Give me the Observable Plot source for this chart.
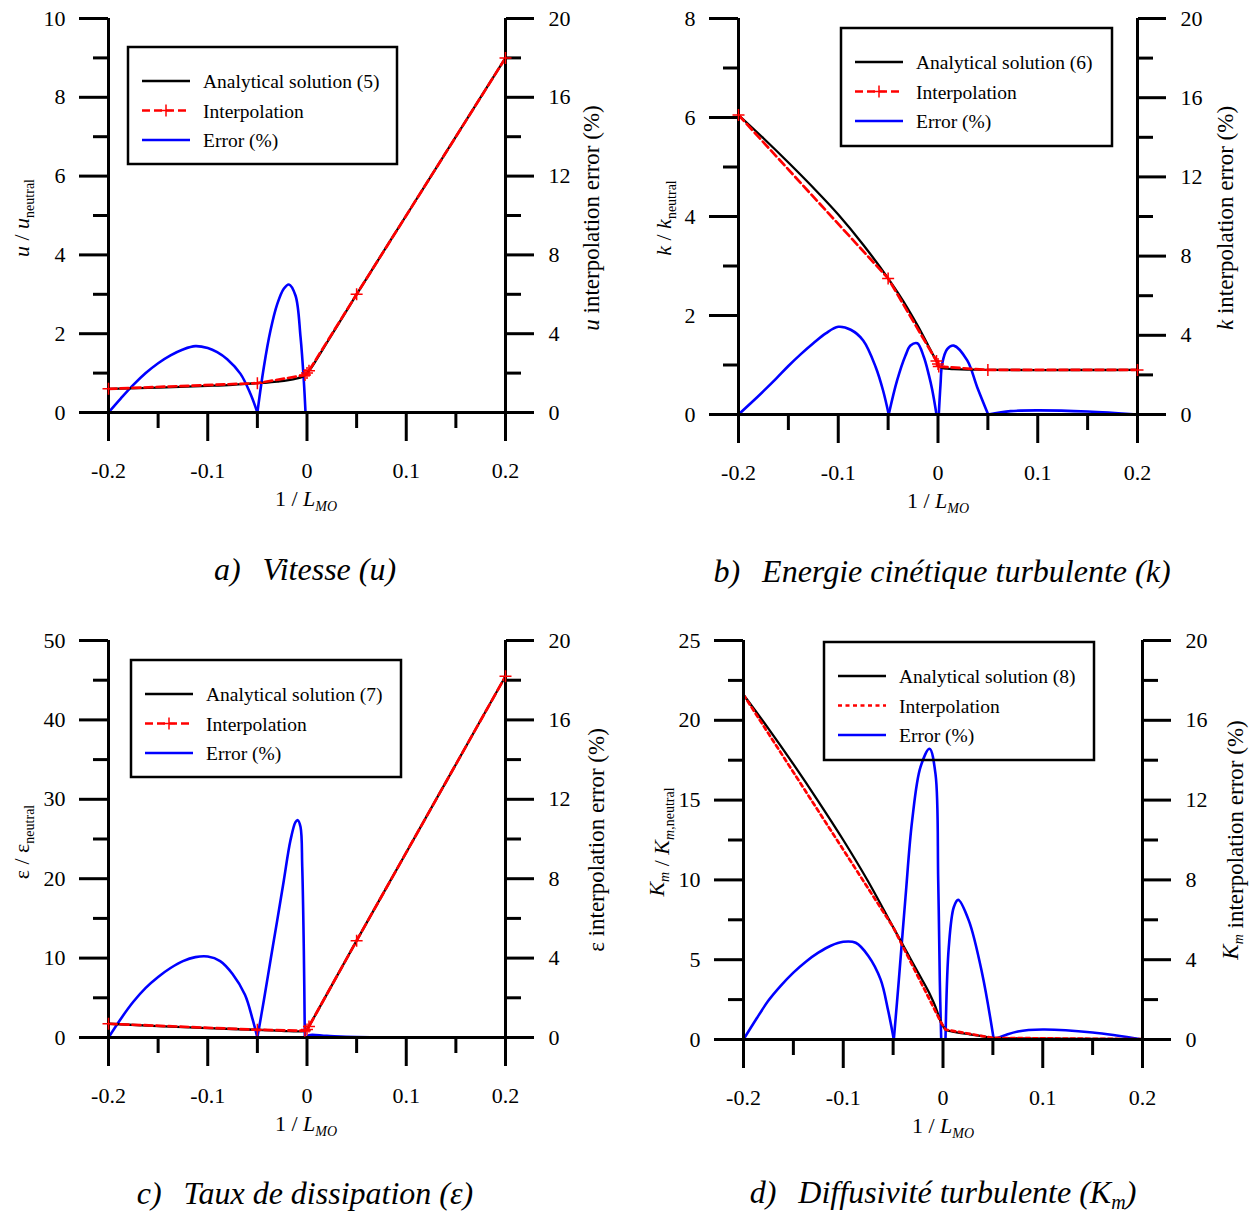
<!DOCTYPE html>
<html><head><meta charset="utf-8">
<script src="https://cdn.jsdelivr.net/npm/d3@7"></script>
<script src="https://cdn.jsdelivr.net/npm/@observablehq/plot@0.6"></script>
<style>
body{margin:0;background:#fff;}
#root{position:relative;width:1253px;height:1214px;overflow:hidden;}
#root svg{position:absolute;}
</style></head><body><div id="root"></div>
<script>
// ---------- shared axes ----------
const xMajor = [-0.2, -0.1, 0, 0.1, 0.2];
const xMinor = [-0.15, -0.05, 0.05, 0.15];
const errMajor = [0, 4, 8, 12, 16, 20];
const errMinor = [2, 6, 10, 14, 18];
const ERR_MAX = 20;
const legendLabels = ["Interpolation", "Error (%)"];

// ---------- a) Vitesse (u) ----------
const aYMajor = [0, 2, 4, 6, 8, 10];
const aYMinor = [1, 3, 5, 7, 9];
const aX = [-0.2, -0.15, -0.1, -0.075, -0.05, -0.04, -0.03, -0.02, -0.01, -0.005, -0.002, 0, 0.002, 0.005, 0.01, 0.02, 0.05, 0.1, 0.15, 0.2];
const aU = [0.60, 0.632, 0.675, 0.703, 0.745, 0.76, 0.785, 0.815, 0.865, 0.905, 0.95, 1.0, 1.06, 1.16, 1.36, 1.77, 3.0, 5.0, 7.0, 9.0];
const aNodeX = [-0.2, -0.05, -0.002, 0, 0.002, 0.05, 0.2];
const aNodeU = [0.60, 0.745, 0.95, 1.0, 1.06, 3.0, 9.0];
const aErrX = [-0.2, -0.1875, -0.175, -0.1625, -0.15, -0.1375, -0.125, -0.1125, -0.1, -0.0905, -0.0804, -0.067, -0.057, -0.05,
               -0.0435, -0.0368, -0.030, -0.0234, -0.0183, -0.0116, -0.0065, -0.0032, -0.0015, 0.2];
const aErrV = [0, 0.72, 1.4, 2.0, 2.5, 2.9, 3.2, 3.37, 3.27, 3.06, 2.7, 1.96, 0.95, 0,
               2.3, 4.16, 5.5, 6.28, 6.5, 5.94, 3.82, 1.6, 0, 0];

// ---------- b) Energie cinétique turbulente (k) ----------
const bYMajor = [0, 2, 4, 6, 8];
const bYMinor = [1, 3, 5, 7];
const bX = [-0.2, -0.175, -0.15, -0.125, -0.1, -0.075, -0.05, -0.04, -0.03, -0.02, -0.01, -0.005, -0.0015, 0, 0.0008, 0.0042, 0.0092, 0.0158, 0.0293, 0.0393, 0.05, 0.1, 0.15, 0.2];
const bK = [6.05, 5.58, 5.09, 4.58, 4.04, 3.43, 2.75, 2.45, 2.13, 1.78, 1.40, 1.207, 1.08, 1.02, 0.97, 0.941, 0.925, 0.917, 0.907, 0.905, 0.90, 0.898, 0.899, 0.90];
const bNodeX = [-0.2, -0.05, -0.0015, 0, 0.0008, 0.05, 0.2];
const bNodeK = [6.05, 2.75, 1.08, 1.02, 0.97, 0.90, 0.90];
const bErrX = [-0.2, -0.1875, -0.175, -0.1625, -0.15, -0.1375, -0.125, -0.1125, -0.1, -0.0875, -0.075, -0.0625, -0.055, -0.0494,
               -0.041, -0.0326, -0.0276, -0.0208, -0.0142, -0.0092, -0.0058, -0.0015,
               0.0008, 0.0025, 0.0042, 0.0092, 0.0158, 0.0293, 0.0393, 0.0503, 0.0727, 0.1, 0.15, 0.2];
const bErrV = [0, 0.58, 1.18, 1.8, 2.45, 3.05, 3.6, 4.1, 4.43, 4.28, 3.74, 2.4, 1.2, 0,
               1.72, 2.98, 3.48, 3.6, 2.9, 2.0, 1.25, 0,
               0, 1.5, 2.56, 3.3, 3.48, 2.73, 1.38, 0, 0.17, 0.21, 0.15, 0];

// ---------- c) Taux de dissipation (ε) ----------
const cYMajor = [0, 10, 20, 30, 40, 50];
const cYMinor = [5, 15, 25, 35, 45];
const cX = [-0.2, -0.15, -0.1, -0.05, -0.03, -0.02, -0.01, -0.005, -0.002, 0, 0.002, 0.005, 0.01, 0.05, 0.1, 0.15, 0.2];
const cE = [1.73, 1.43, 1.17, 0.97, 0.87, 0.81, 0.775, 0.78, 0.85, 1.0, 1.4, 2.07, 3.2, 12.2, 23.3, 34.4, 45.5];
const cNodeX = [-0.2, -0.05, -0.0022, 0, 0.002, 0.05, 0.2];
const cNodeE = [1.73, 0.97, 0.85, 1.0, 1.4, 12.2, 45.5];
const cErrX = [-0.2, -0.1875, -0.175, -0.1625, -0.15, -0.1375, -0.125, -0.1125, -0.1, -0.0875, -0.075, -0.0625, -0.055, -0.05,
               -0.0435, -0.0368, -0.03, -0.0234, -0.0167, -0.0116, -0.0093, -0.0065, -0.0048, -0.0032, -0.0022, 0, 0.002, 0.02, 0.05, 0.2];
const cErrV = [0, 0.95, 1.8, 2.5, 3.05, 3.5, 3.85, 4.05, 4.08, 3.85, 3.2, 2.15, 0.95, 0,
               1.86, 3.88, 5.9, 7.9, 9.92, 10.85, 10.95, 10.6, 8.6, 4.4, 0, 0, 0.12, 0.08, 0.02, 0];

// ---------- d) Diffusivité turbulente (Km) ----------
const dYMajor = [0, 5, 10, 15, 20, 25];
const dYMinor = [2.5, 7.5, 12.5, 17.5, 22.5];
const dX = [-0.2, -0.175, -0.15, -0.125, -0.1, -0.075, -0.05, -0.04, -0.03, -0.0226, -0.0135, -0.0075, -0.0048, -0.0032, -0.0018, 0, 0.0025, 0.006, 0.011, 0.015, 0.026, 0.039, 0.05, 0.1, 0.15, 0.2];
const dK = [21.6, 19.475, 17.25, 14.925, 12.5, 9.9, 7.04, 5.9, 4.76, 3.93, 2.88, 2.04, 1.56, 1.28, 1.05, 0.85, 0.62, 0.54, 0.48, 0.437, 0.333, 0.209, 0.1, 0.05, 0.03, 0.02];
const dNodeX = [-0.2, -0.05, -0.0018, 0.0025, 0.05, 0.2];
const dNodeK = [21.6, 7.04, 1.05, 0.62, 0.1, 0.02];
const dErrX = [-0.2, -0.1875, -0.175, -0.1625, -0.15, -0.1375, -0.125, -0.1125, -0.1, -0.0875, -0.075, -0.0625, -0.055, -0.0493,
               -0.0443, -0.0376, -0.0309, -0.0226, -0.0135, -0.0075, -0.0048, -0.0032, -0.0018,
               0.0025, 0.0058, 0.0108, 0.0152, 0.0259, 0.0393, 0.0509, 0.075, 0.1, 0.15, 0.2];
const dErrV = [0, 1.0, 1.95, 2.7, 3.35, 3.9, 4.35, 4.7, 4.9, 4.85, 4.2, 3.0, 1.45, 0,
               2.96, 7.13, 10.98, 13.65, 14.57, 13.3, 7.97, 2.96, 0,
               0, 4.63, 6.63, 7.0, 5.96, 3.3, 0, 0.4, 0.5, 0.35, 0];

// ---------- layout ----------
const SVG_W = 627, SVG_H = 600;
const panels = [
  {yMax: 10, yMajor: aYMajor, yMinor: aYMinor, x: aX, y: aU, nodeX: aNodeX, nodeY: aNodeU, errX: aErrX, errV: aErrV,
   markers: true, dash: "8,4", eq: "(5)", sym: "u", left: 0, top: 0, frame: [108, 505, 18, 412],
   yLab: [29, 218], rLab: [599, 218], xLab: [306, 506], title: [305, 580], legend: [128, 47, 269, 117]},
  {yMax: 8, yMajor: bYMajor, yMinor: bYMinor, x: bX, y: bK, nodeX: bNodeX, nodeY: bNodeK, errX: bErrX, errV: bErrV,
   markers: true, dash: "8,4", eq: "(6)", sym: "k", left: 626, top: 0, frame: [738, 1137, 18, 414],
   yLab: [671, 218], rLab: [1233, 218], xLab: [938, 508], title: [942, 582], legend: [841, 28, 271, 118]},
  {yMax: 50, yMajor: cYMajor, yMinor: cYMinor, x: cX, y: cE, nodeX: cNodeX, nodeY: cNodeE, errX: cErrX, errV: cErrV,
   markers: true, dash: "8,4", eq: "(7)", sym: "ε", left: 0, top: 614, frame: [108, 505, 640, 1037],
   yLab: [29, 842], rLab: [604, 840], xLab: [306, 1131], title: [305, 1204], legend: [131, 660, 270, 117]},
  {yMax: 25, yMajor: dYMajor, yMinor: dYMinor, x: dX, y: dK, nodeX: dNodeX, nodeY: dNodeK, errX: dErrX, errV: dErrV,
   markers: false, dash: "4,3.5", eq: "(8)", sym: "Km", left: 626, top: 614, frame: [743, 1142, 640, 1039],
   yLab: [664, 842], rLab: [1238, 840], xLab: [943, 1133], title: [943, 1203], legend: [824, 642, 270, 118]}
];

const plusSymbol = {draw(ctx, size) {
  const r = Math.sqrt(size / Math.PI);
  ctx.moveTo(-r, 0); ctx.lineTo(r, 0); ctx.moveTo(0, -r); ctx.lineTo(0, r);
}};

// split an error series into humps at its zero points (cusps)
function errSegments(xs, vs) {
  const out = []; let seg = 0;
  xs.forEach((x, i) => {
    out.push({x, e: vs[i], seg});
    if (vs[i] === 0 && i > 0 && i < xs.length - 1) { seg++; out.push({x, e: vs[i], seg}); }
  });
  return out;
}

const FONT = "'Liberation Serif', 'Times New Roman', serif";
const root = document.getElementById("root");
const captions = [
  ["a)", "Vitesse (", "u", ")"],
  ["b)", "Energie cinétique turbulente (", "k", ")"],
  ["c)", "Taux de dissipation (", "ε", ")"],
  ["d)", "Diffusivité turbulente (", "K", ")"]
];

panels.forEach((p, ci) => {
  const k = p.yMax / ERR_MAX;
  const analytical = p.x.map((x, i) => ({x, y: p.y[i]}));
  const nodes = p.nodeX.map((x, i) => ({x, y: p.nodeY[i]}));
  const err = errSegments(p.errX, p.errV);
  const [fx0, fx1, fy0, fy1] = p.frame;
  const marks = [
    Plot.line(err, {x: "x", y: d => d.e * k, z: "seg", stroke: "#0000ff", strokeWidth: 2.6, curve: "catmull-rom"}),
    Plot.line(analytical, {x: "x", y: "y", stroke: "black", strokeWidth: 2.3, curve: "monotone-x"}),
    Plot.line(nodes, {x: "x", y: "y", stroke: "#ff0000", strokeWidth: 2.7, strokeDasharray: p.dash}),
    Plot.ruleX([-0.2, 0.2], {y1: 0, y2: p.yMax, stroke: "black", strokeWidth: 3}),
    Plot.ruleY([0], {stroke: "black", strokeWidth: 3}),
    Plot.axisX({ticks: xMajor, tickSize: 29, tickPadding: 21, tickFormat: d => String(d), strokeWidth: 3, label: null}),
    Plot.axisX({ticks: xMinor, tickSize: 16, tickFormat: () => "", strokeWidth: 3, label: null}),
    Plot.axisY({anchor: "left", ticks: p.yMajor, tickSize: 29, tickPadding: 14, tickFormat: d => String(d), strokeWidth: 3, label: null}),
    Plot.axisY({anchor: "left", ticks: p.yMinor, tickSize: 15, tickFormat: () => "", strokeWidth: 3, label: null}),
    Plot.axisY({anchor: "right", ticks: errMajor.map(e => e * k), tickSize: 28, tickPadding: 15, tickFormat: v => String(Math.round(v / k)), strokeWidth: 3, label: null}),
    Plot.axisY({anchor: "right", ticks: errMinor.map(e => e * k), tickSize: 15, tickFormat: () => "", strokeWidth: 3, label: null})
  ];
  if (p.markers) marks.push(Plot.dot(nodes, {x: "x", y: "y", symbol: plusSymbol, r: 6, stroke: "#ff0000", fill: "none", strokeWidth: 1.5}));

  const svg = Plot.plot({
    width: SVG_W, height: SVG_H,
    marginLeft: fx0 - p.left, marginRight: SVG_W - (fx1 - p.left),
    marginTop: fy0 - p.top, marginBottom: SVG_H - (fy1 - p.top),
    x: {domain: [-0.2, 0.2]},
    y: {domain: [0, p.yMax]},
    style: {fontFamily: FONT, fontSize: "22px", color: "black", background: "transparent", overflow: "visible"},
    marks
  });
  svg.style.left = p.left + "px";
  svg.style.top = p.top + "px";
  root.appendChild(svg);

  const g = d3.select(svg).append("g").attr("transform", `translate(${-p.left},${-p.top})`)
    .attr("font-family", FONT).attr("fill", "black").attr("text-anchor", "start");

  function symbolSpans(t, withSub) {
    if (p.sym === "Km") {
      t.append("tspan").attr("font-style", "italic").text("K");
      const s = t.append("tspan").attr("font-size", 14).attr("dy", 5);
      s.append("tspan").attr("font-style", "italic").text("m");
      if (withSub) s.append("tspan").text(",neutral");
      t.append("tspan").attr("dy", -5).text("");
    } else {
      t.append("tspan").attr("font-style", p.sym === "ε" ? "normal" : "italic").text(p.sym);
      if (withSub) {
        t.append("tspan").attr("font-size", 14).attr("dy", 5).text("neutral");
        t.append("tspan").attr("dy", -5).text("");
      }
    }
  }

  // left axis title
  const yl = g.append("text").attr("transform", `translate(${p.yLab[0]},${p.yLab[1]}) rotate(-90)`)
    .attr("text-anchor", "middle").attr("font-size", 22);
  symbolSpans(yl, false);
  yl.append("tspan").text(" / ");
  symbolSpans(yl, true);

  // right axis title
  const rl = g.append("text").attr("transform", `translate(${p.rLab[0]},${p.rLab[1]}) rotate(-90)`)
    .attr("text-anchor", "middle").attr("font-size", 23);
  symbolSpans(rl, false);
  rl.append("tspan").text(" interpolation error (%)");

  // x axis title
  const xl = g.append("text").attr("x", p.xLab[0]).attr("y", p.xLab[1]).attr("text-anchor", "middle").attr("font-size", 22);
  xl.append("tspan").text("1 / ");
  xl.append("tspan").attr("font-style", "italic").text("L");
  xl.append("tspan").attr("font-style", "italic").attr("font-size", 14).attr("dy", 5).text("MO");

  // caption
  const cap = captions[ci];
  const tt = g.append("text").attr("x", p.title[0]).attr("y", p.title[1]).attr("text-anchor", "middle")
    .attr("font-size", 32).attr("font-style", "italic");
  tt.append("tspan").text(cap[0]);
  tt.append("tspan").attr("dx", 22).text(cap[1] + cap[2]);
  if (ci === 3) {
    tt.append("tspan").attr("font-size", 20).attr("dy", 6).text("m");
    tt.append("tspan").attr("dy", -6).text(cap[3]);
  } else {
    tt.append("tspan").text(cap[3]);
  }

  // legend (transparent box: curves show through, as in the reference)
  const [lx, ly, lw, lh] = p.legend;
  g.append("rect").attr("x", lx).attr("y", ly).attr("width", lw).attr("height", lh)
    .attr("fill", "none").attr("stroke", "black").attr("stroke-width", 2.5);
  const rows = [ly + 34, ly + 63.5, ly + 93];
  const sx0 = lx + 14, sx1 = lx + 62, tx = lx + 75;
  g.append("line").attr("x1", sx0).attr("x2", sx1).attr("y1", rows[0]).attr("y2", rows[0]).attr("stroke", "black").attr("stroke-width", 2.3);
  g.append("line").attr("x1", sx0).attr("x2", sx1).attr("y1", rows[1]).attr("y2", rows[1]).attr("stroke", "#ff0000").attr("stroke-width", 2.7).attr("stroke-dasharray", p.dash);
  if (p.markers) {
    const mx = (sx0 + sx1) / 2;
    g.append("path").attr("d", `M${mx - 6},${rows[1]}H${mx + 6}M${mx},${rows[1] - 6}V${rows[1] + 6}`).attr("stroke", "#ff0000").attr("stroke-width", 1.5).attr("fill", "none");
  }
  g.append("line").attr("x1", sx0).attr("x2", sx1).attr("y1", rows[2]).attr("y2", rows[2]).attr("stroke", "#0000ff").attr("stroke-width", 2.6);
  const labels = ["Analytical solution " + p.eq, legendLabels[0], legendLabels[1]];
  labels.forEach((t, i) => g.append("text").attr("x", tx).attr("y", rows[i] + 7).attr("text-anchor", "start").attr("font-size", 19.5).text(t));
});
</script></body></html>
